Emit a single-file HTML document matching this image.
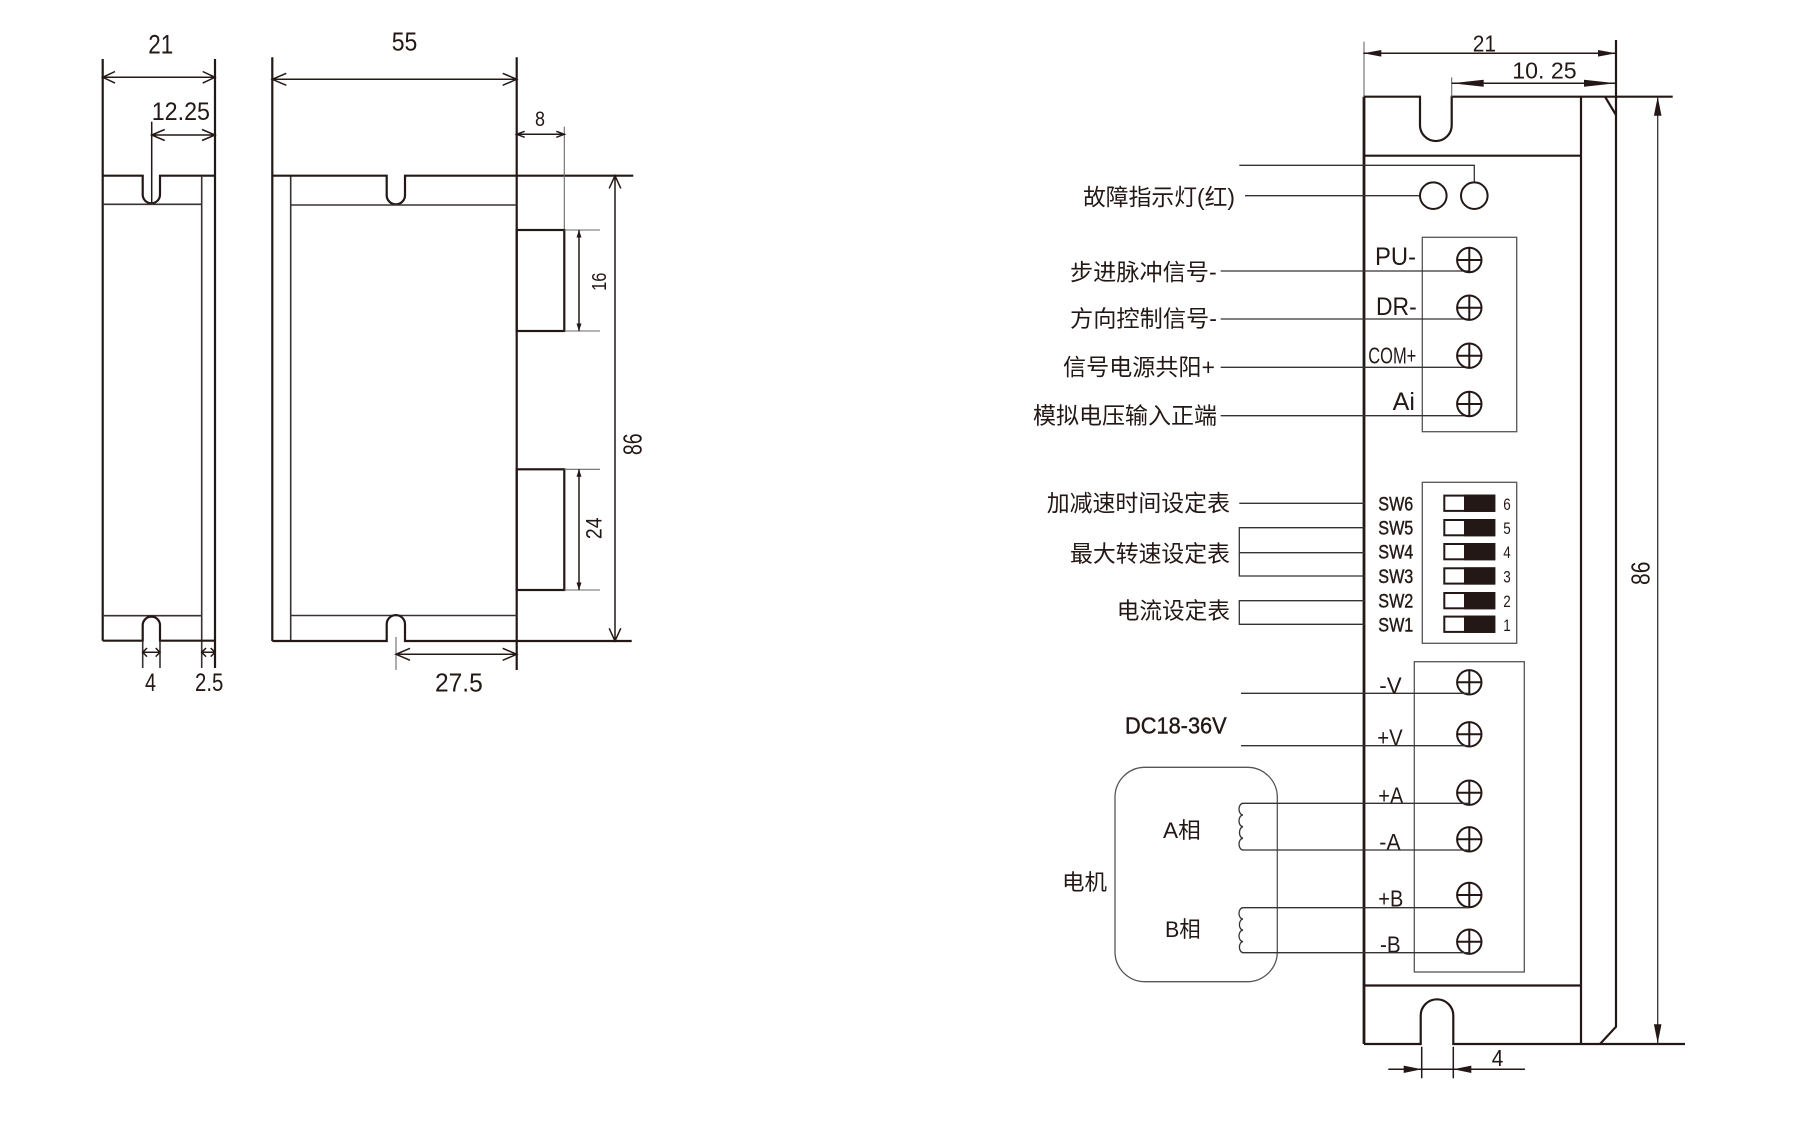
<!DOCTYPE html>
<html><head><meta charset="utf-8"><style>
html,body{margin:0;padding:0;background:#fff;}
svg{display:block;}
text{font-family:"Liberation Sans","Noto Sans CJK SC",sans-serif;fill:#231815;}
.cj{font-family:"Liberation Sans","Noto Sans CJK SC",sans-serif;}
.m{stroke:#231815;stroke-width:2.2;fill:none;}
.k{stroke:#231815;stroke-width:2.8;fill:none;}
.i{stroke:#3a3232;stroke-width:1.6;fill:none;}
.t{stroke:#6a6a6a;stroke-width:1.1;fill:none;}
.d{stroke:#231815;stroke-width:1.5;fill:none;}
.s{stroke:#333;stroke-width:1.3;fill:none;}
.b{stroke:#555;stroke-width:1.3;fill:none;}
.f{fill:#231815;stroke:none;}
</style></head><body>
<svg width="1800" height="1122" viewBox="0 0 1800 1122" xmlns="http://www.w3.org/2000/svg">
<rect width="1800" height="1122" fill="#fff"/>

<!-- ===== LEFT SIDE VIEW ===== -->
<path class="m" d="M102.7,59 V640.7"/>
<path class="m" d="M215,59 V668"/>
<path class="m" d="M102.7,175.7 H142.7 V194.6 A8.65,8.65 0 0 0 160,194.6 V175.7 H215"/>
<path class="i" d="M102.7,204.3 H201.7"/>
<path class="i" d="M201.7,175.7 V668"/>
<path class="i" d="M102.7,615.7 H201.7"/>
<path class="m" d="M102.7,640.7 H142.7 V625.3 A8.65,8.65 0 0 1 160,625.3 V640.7 H215"/>
<path class="i" d="M142.7,640.7 V668 M160,640.7 V668"/>
<path class="d" d="M151.7,121.7 V203"/>
<!-- 21 -->
<path class="d" d="M102.7,77.3 H215 M115,71.5 L102.7,77.3 L115,83.1 M202.7,71.5 L215,77.3 L202.7,83.1"/>
<text x="148.3" y="53.3" font-size="27" textLength="25" lengthAdjust="spacingAndGlyphs">21</text>
<!-- 12.25 -->
<path class="d" d="M151.7,135 H215 M164.7,129.5 L151.7,135 L164.7,140.5 M202,129.5 L215,135 L202,140.5"/>
<text x="151.7" y="120" font-size="25" textLength="58.3" lengthAdjust="spacingAndGlyphs">12.25</text>
<!-- 4 and 2.5 -->
<path class="d" d="M142.7,652.3 H160 M147,648 L142.7,652.3 L147,656.6 M155.7,648 L160,652.3 L155.7,656.6"/>
<path class="d" d="M201.7,652.3 H215 M206,648 L201.7,652.3 L206,656.6 M210.7,648 L215,652.3 L210.7,656.6"/>
<text x="145" y="691" font-size="25" textLength="11" lengthAdjust="spacingAndGlyphs">4</text>
<text x="195" y="691" font-size="25" textLength="28.3" lengthAdjust="spacingAndGlyphs">2.5</text>

<!-- ===== FRONT VIEW ===== -->
<path class="m" d="M272.3,57.3 V641"/>
<path class="i" d="M290.7,175.7 V641"/>
<path class="m" d="M516.7,57.3 V670"/>
<path class="m" d="M272.3,175.7 H386.7 V195.2 A9.15,9.15 0 0 0 405,195.2 V175.7 H633.3"/>
<path class="i" d="M290.7,205 H516.7"/>
<path class="i" d="M290.7,615.5 H516.7"/>
<path class="m" d="M272.3,641 H386.7 V624.2 A9.15,9.15 0 0 1 405,624.2 V641 H631.7"/>
<!-- 55 -->
<path class="d" d="M272.3,79.3 H516.7 M286.3,73.3 L272.3,79.3 L286.3,85.3 M502.7,73.3 L516.7,79.3 L502.7,85.3"/>
<text x="391.7" y="50.7" font-size="26" textLength="25.6" lengthAdjust="spacingAndGlyphs">55</text>
<!-- 8 -->
<path class="t" d="M564.3,126.7 V230"/>
<path class="d" d="M516.7,134.3 H564.3 M524.7,131.3 L516.7,134.3 L524.7,137.3 M556.3,131.3 L564.3,134.3 L556.3,137.3"/>
<text x="535" y="126" font-size="21" textLength="10" lengthAdjust="spacingAndGlyphs">8</text>
<!-- connectors -->
<rect class="m" x="516.7" y="230" width="47.6" height="101"/>
<rect class="m" x="516.7" y="469.3" width="47.6" height="120.7"/>
<path class="t" d="M564.3,230 H600 M564.3,331 H600 M564.3,469.3 H600 M564.3,590 H600"/>
<path class="d" d="M579,230 V331 M579,469.3 V590"/>
<polygon class="f" points="579,230 576.5,237.5 581.5,237.5"/>
<polygon class="f" points="579,331 576.5,323.5 581.5,323.5"/>
<polygon class="f" points="579,469.3 576.5,476.8 581.5,476.8"/>
<polygon class="f" points="579,590 576.5,582.5 581.5,582.5"/>
<text transform="translate(606,281.7) rotate(-90)" x="0" y="0" font-size="20" text-anchor="middle" textLength="18.3" lengthAdjust="spacingAndGlyphs">16</text>
<text transform="translate(601.7,528.3) rotate(-90)" x="0" y="0" font-size="22" text-anchor="middle" textLength="21.7" lengthAdjust="spacingAndGlyphs">24</text>
<!-- 86 left -->
<path class="d" d="M615,175.7 V641 M609.2,188.4 L615,175.7 L620.8,188.4 M609.2,628.3 L615,641 L620.8,628.3"/>
<text transform="translate(641.7,444.3) rotate(-90)" x="0" y="0" font-size="26" text-anchor="middle" textLength="21.7" lengthAdjust="spacingAndGlyphs">86</text>
<!-- 27.5 -->
<path class="t" d="M396,637 V670"/>
<path class="d" d="M396,654.3 H516.7 M410,648.3 L396,654.3 L410,660.3 M502.7,648.3 L516.7,654.3 L502.7,660.3"/>
<text x="435" y="691.7" font-size="26" textLength="47.7" lengthAdjust="spacingAndGlyphs">27.5</text>

<!-- ===== RIGHT DRIVER VIEW ===== -->
<path class="t" d="M1364,41.7 V96.7"/>
<path class="k" d="M1364,96.7 V1044"/>
<path class="m" d="M1364,96.7 H1420 V125.2 A15.85,15.85 0 0 0 1451.7,125.2 V96.7 H1672.7"/>
<path class="t" d="M1451.7,77.3 V96.7"/>
<path class="m" d="M1364,155.7 H1581"/>
<path class="m" d="M1581,96.7 V1044"/>
<path class="m" d="M1616,40 V1026.7 L1600,1044"/>
<path class="m" d="M1605,96.7 L1616,115"/>
<path class="m" d="M1364,985.5 H1581"/>
<path class="m" d="M1364,1044 H1420.7 V1015.6 A16.3,16.3 0 0 1 1453.3,1015.6 V1044 H1685"/>

<!-- 21 dim -->
<path class="d" d="M1363.3,53.3 H1616"/>
<polygon class="f" points="1363.3,53.3 1381.3,50 1381.3,56.6"/>
<polygon class="f" points="1616,53.3 1598,50 1598,56.6"/>
<text x="1472.7" y="51.7" font-size="23" textLength="23.3" lengthAdjust="spacingAndGlyphs">21</text>
<!-- 10.25 dim -->
<path class="d" d="M1451.7,83.3 H1616"/>
<polygon class="f" points="1451.7,83.3 1483.7,79.8 1483.7,86.8"/>
<polygon class="f" points="1616,83.3 1584,79.8 1584,86.8"/>
<text x="1512.3" y="78.3" font-size="23" textLength="64.4" lengthAdjust="spacingAndGlyphs">10. 25</text>
<!-- 86 right -->
<path class="s" d="M1657.7,96.7 V1043.3"/>
<polygon class="f" points="1657.7,96.7 1653.9,115.7 1661.5,115.7"/>
<polygon class="f" points="1657.7,1043.3 1653.9,1024.3 1661.5,1024.3"/>
<text transform="translate(1649.3,573.3) rotate(-90)" x="0" y="0" font-size="26" text-anchor="middle" textLength="23.3" lengthAdjust="spacingAndGlyphs">86</text>
<!-- bottom 4 -->
<path class="d" d="M1421.7,1046.7 V1078.3 M1453.3,1046.7 V1078.3 M1388.3,1069.3 H1525"/>
<polygon class="f" points="1421.7,1069.3 1403.7,1065.6 1403.7,1073"/>
<polygon class="f" points="1453.3,1069.3 1471.3,1065.6 1471.3,1073"/>
<text x="1491.7" y="1066" font-size="23" textLength="11.6" lengthAdjust="spacingAndGlyphs">4</text>

<!-- LEDs -->
<path class="s" d="M1239.3,165.3 H1474.3 V182.4"/>
<path class="s" d="M1245,195.7 H1420"/>
<circle cx="1433.3" cy="195.7" r="13.3" fill="none" stroke="#231815" stroke-width="2"/>
<circle cx="1474.3" cy="195.7" r="13.3" fill="none" stroke="#231815" stroke-width="2"/>
<text class="cj" x="1083" y="205.2" font-size="23" textLength="152" lengthAdjust="spacingAndGlyphs">故障指示灯(红)</text>

<!-- signal terminal -->
<rect class="b" x="1422.3" y="237.3" width="94.4" height="194.4"/>
<path class="s" d="M1220.7,271 H1469.3 M1220.7,319 H1469.3 M1220.7,367.3 H1469.3 M1220.7,415.7 H1469.3"/>
<text class="cj" x="1070" y="280.2" font-size="23" textLength="146.7" lengthAdjust="spacingAndGlyphs">步进脉冲信号-</text>
<text class="cj" x="1070" y="326.5" font-size="23" textLength="147" lengthAdjust="spacingAndGlyphs">方向控制信号-</text>
<text class="cj" x="1063" y="375.2" font-size="23" textLength="152" lengthAdjust="spacingAndGlyphs">信号电源共阳+</text>
<text class="cj" x="1033" y="423.5" font-size="23" textLength="184" lengthAdjust="spacingAndGlyphs">模拟电压输入正端</text>
<text x="1375" y="265" font-size="25" textLength="41" lengthAdjust="spacingAndGlyphs">PU-</text>
<text x="1376" y="315" font-size="25" textLength="40.7" lengthAdjust="spacingAndGlyphs">DR-</text>
<text x="1368.3" y="363.3" font-size="23" textLength="48" lengthAdjust="spacingAndGlyphs">COM+</text>
<text x="1392.7" y="410" font-size="25" textLength="22.3" lengthAdjust="spacingAndGlyphs">Ai</text>

<!-- screws -->
<g fill="none" stroke="#231815" stroke-width="2">
<circle cx="1469.3" cy="260" r="12.2"/><path d="M1457.1,260 H1481.5 M1469.3,247.8 V272.2"/>
<circle cx="1469.3" cy="307.7" r="12.2"/><path d="M1457.1,307.7 H1481.5 M1469.3,295.5 V319.9"/>
<circle cx="1469.3" cy="355.7" r="12.2"/><path d="M1457.1,355.7 H1481.5 M1469.3,343.5 V367.9"/>
<circle cx="1469.3" cy="404" r="12.2"/><path d="M1457.1,404 H1481.5 M1469.3,391.8 V416.2"/>
<circle cx="1469.3" cy="682.3" r="12.2"/><path d="M1457.1,682.3 H1481.5 M1469.3,670.1 V694.5"/>
<circle cx="1469.3" cy="734.3" r="12.2"/><path d="M1457.1,734.3 H1481.5 M1469.3,722.1 V746.5"/>
<circle cx="1469.3" cy="792.7" r="12.2"/><path d="M1457.1,792.7 H1481.5 M1469.3,780.5 V804.9"/>
<circle cx="1469.3" cy="839.3" r="12.2"/><path d="M1457.1,839.3 H1481.5 M1469.3,827.1 V851.5"/>
<circle cx="1469.3" cy="895" r="12.2"/><path d="M1457.1,895 H1481.5 M1469.3,882.8 V907.2"/>
<circle cx="1469.3" cy="941.7" r="12.2"/><path d="M1457.1,941.7 H1481.5 M1469.3,929.5 V953.9"/>
</g>

<!-- DIP switches -->
<rect class="b" x="1422.3" y="482.3" width="94.4" height="161"/>
<path class="s" d="M1239.3,503.3 H1364.3"/>
<path class="s" d="M1364.3,527.7 H1239.3 V576 H1364.3 M1239.3,552.7 H1364.3"/>
<path class="s" d="M1364.3,600.7 H1239.3 V624.3 H1364.3"/>
<text class="cj" x="1046.7" y="511" font-size="23" textLength="183.3" lengthAdjust="spacingAndGlyphs">加减速时间设定表</text>
<text class="cj" x="1070" y="561.5" font-size="23" textLength="160" lengthAdjust="spacingAndGlyphs">最大转速设定表</text>
<text class="cj" x="1116.7" y="618.5" font-size="23" textLength="113.3" lengthAdjust="spacingAndGlyphs">电流设定表</text>
<g font-size="19" style="stroke:#231815;stroke-width:0.4">
<text x="1378.3" y="510.3" textLength="35" lengthAdjust="spacingAndGlyphs">SW6</text>
<text x="1378.3" y="534.7" textLength="35" lengthAdjust="spacingAndGlyphs">SW5</text>
<text x="1378.3" y="558.7" textLength="35" lengthAdjust="spacingAndGlyphs">SW4</text>
<text x="1378.3" y="583" textLength="35" lengthAdjust="spacingAndGlyphs">SW3</text>
<text x="1378.3" y="607.7" textLength="35" lengthAdjust="spacingAndGlyphs">SW2</text>
<text x="1378.3" y="631.3" textLength="35" lengthAdjust="spacingAndGlyphs">SW1</text>
</g>
<g font-size="17">
<text x="1503.3" y="509.8" textLength="7.5" lengthAdjust="spacingAndGlyphs">6</text>
<text x="1503.3" y="534.2" textLength="7.5" lengthAdjust="spacingAndGlyphs">5</text>
<text x="1503.3" y="558.2" textLength="7.5" lengthAdjust="spacingAndGlyphs">4</text>
<text x="1503.3" y="582.5" textLength="7.5" lengthAdjust="spacingAndGlyphs">3</text>
<text x="1503.3" y="607.2" textLength="7.5" lengthAdjust="spacingAndGlyphs">2</text>
<text x="1503.3" y="630.8" textLength="7.5" lengthAdjust="spacingAndGlyphs">1</text>
</g>
<g stroke="#231815" stroke-width="2">
<rect x="1444.3" y="495.6" width="50" height="15.3" fill="#fff"/><rect x="1465" y="495.6" width="29.3" height="15.3" fill="#231815"/>
<rect x="1444.3" y="520" width="50" height="15.3" fill="#fff"/><rect x="1465" y="520" width="29.3" height="15.3" fill="#231815"/>
<rect x="1444.3" y="544" width="50" height="15.3" fill="#fff"/><rect x="1465" y="544" width="29.3" height="15.3" fill="#231815"/>
<rect x="1444.3" y="568.3" width="50" height="15.3" fill="#fff"/><rect x="1465" y="568.3" width="29.3" height="15.3" fill="#231815"/>
<rect x="1444.3" y="593" width="50" height="15.3" fill="#fff"/><rect x="1465" y="593" width="29.3" height="15.3" fill="#231815"/>
<rect x="1444.3" y="616.6" width="50" height="15.3" fill="#fff"/><rect x="1465" y="616.6" width="29.3" height="15.3" fill="#231815"/>
</g>

<!-- power terminal -->
<rect class="b" x="1414.3" y="661.7" width="110" height="310.3"/>
<path class="s" d="M1241,693.3 H1469.3 M1241,745.7 H1469.3"/>
<text x="1125" y="733.3" font-size="23" style="stroke:#231815;stroke-width:0.4" textLength="101.7" lengthAdjust="spacingAndGlyphs">DC18-36V</text>
<text x="1379.3" y="693.3" font-size="23" textLength="22.4" lengthAdjust="spacingAndGlyphs">-V</text>
<text x="1377.3" y="745.7" font-size="23" textLength="25.4" lengthAdjust="spacingAndGlyphs">+V</text>
<text x="1378.3" y="803.3" font-size="23" textLength="25" lengthAdjust="spacingAndGlyphs">+A</text>
<text x="1379.3" y="850" font-size="23" textLength="21.4" lengthAdjust="spacingAndGlyphs">-A</text>
<text x="1378.3" y="906.7" font-size="23" textLength="25" lengthAdjust="spacingAndGlyphs">+B</text>
<text x="1380" y="952.7" font-size="23" textLength="20.7" lengthAdjust="spacingAndGlyphs">-B</text>

<!-- motor -->
<rect class="b" x="1115" y="767.3" width="162.3" height="214.4" rx="30" ry="30"/>
<path class="s" d="M1242.5,803.3 H1469.3 M1242.5,850 H1469.3 M1242.5,907.7 H1469.3 M1242.5,952.7 H1469.3"/>
<path class="s" d="M1243,803.3 A4,5.84 0 0 0 1243,815 A4,5.84 0 0 0 1243,826.7 A4,5.84 0 0 0 1243,838.3 A4,5.84 0 0 0 1243,850"/>
<path class="s" d="M1243,907.7 A4,5.63 0 0 0 1243,919 A4,5.63 0 0 0 1243,930.2 A4,5.63 0 0 0 1243,941.5 A4,5.63 0 0 0 1243,952.7"/>
<text class="cj" x="1163" y="838" font-size="22" textLength="37.7" lengthAdjust="spacingAndGlyphs">A相</text>
<text class="cj" x="1165" y="936.8" font-size="22" textLength="35.7" lengthAdjust="spacingAndGlyphs">B相</text>
<text class="cj" x="1062" y="890.2" font-size="22" textLength="45" lengthAdjust="spacingAndGlyphs">电机</text>
</svg>
</body></html>
